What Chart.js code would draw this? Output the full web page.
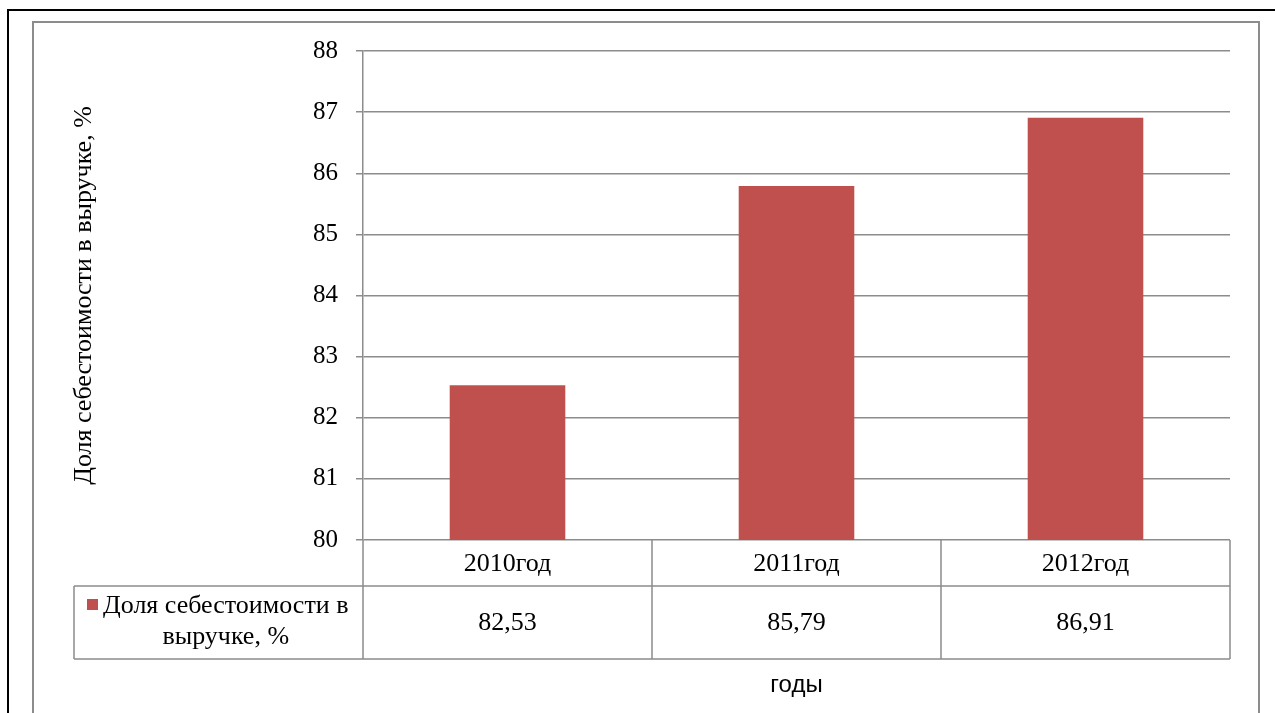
<!DOCTYPE html>
<html>
<head>
<meta charset="utf-8">
<script src="https://cdn.jsdelivr.net/npm/chart.js@4"></script>
<style>
  html, body { margin: 0; padding: 0; background: #fff; }
  #wrap { position: relative; width: 1275px; height: 713px; overflow: hidden; }
  #outer { position: absolute; left: 7px; top: 9px; width: 1300px; height: 800px;
           border-left: 2px solid #000; border-top: 2px solid #000; }
  #inner { position: absolute; left: 32px; top: 21px; width: 1224px; height: 800px;
           border: 2px solid #8c8c8c; }
  canvas { position: absolute; left: 0; top: 0; }
</style>
</head>
<body>
<div id="wrap">
  <div id="outer"></div>
  <div id="inner"></div>
  <canvas id="c" width="1275" height="713"></canvas>
</div>
<script>
// Доля себестоимости в выручке по годам
const categories = ['2010год', '2011год', '2012год'];
const values = [82.53, 85.79, 86.91];
const seriesName = 'Доля себестоимости в выручке, %';
const yTitle = 'Доля себестоимости в выручке, %';
const xTitle = 'годы';

const BAR = '#C0504D';
const LINE = '#8c8c8c';
const SERIF = '"Liberation Serif", "Times New Roman", serif';

const fmt = v => v.toFixed(2).replace('.', ',');

// data table under the plot, drawn from the x scale
const dataTable = {
  id: 'dataTable',
  afterDraw(chart) {
    const { ctx, chartArea: a, scales: { x } } = chart;
    const n = categories.length;
    const step = a.width / n;
    const r1 = a.bottom + 46, r2 = r1 + 73, legL = 74;
    ctx.save();
    ctx.strokeStyle = LINE; ctx.lineWidth = 1.5;
    ctx.beginPath();
    ctx.moveTo(legL, r1); ctx.lineTo(a.right, r1);
    ctx.moveTo(legL, r2); ctx.lineTo(a.right, r2);
    ctx.moveTo(legL, r1); ctx.lineTo(legL, r2);
    for (let i = 0; i <= n; i++) {
      const xx = a.left + i * step;
      ctx.moveTo(xx, a.bottom); ctx.lineTo(xx, r2);
    }
    ctx.stroke();

    ctx.fillStyle = '#000';
    ctx.textAlign = 'center'; ctx.textBaseline = 'middle';
    ctx.font = '26px ' + SERIF;
    categories.forEach((c, i) => {
      const cx = x.getPixelForValue(i);
      ctx.fillText(c, cx, (a.bottom + r1) / 2 + 1);
      ctx.fillText(fmt(values[i]), cx, (r1 + r2) / 2 + 1);
    });

    // legend key in the first column
    const l1 = 'Доля себестоимости в', l2 = 'выручке, %';
    const tx = 103, w1 = ctx.measureText(l1).width;
    ctx.fillStyle = BAR;
    ctx.fillRect(87, 599, 11, 11);
    ctx.fillStyle = '#000';
    ctx.textAlign = 'left';
    ctx.fillText(l1, tx, 606);
    ctx.textAlign = 'center';
    ctx.fillText(l2, tx + w1 / 2, 637);

    // x axis title
    ctx.font = '24px "Liberation Sans", Arial, sans-serif';
    ctx.fillText(xTitle, (a.left + a.right) / 2, 685);
    ctx.restore();
  }
};

new Chart(document.getElementById('c'), {
  type: 'bar',
  data: {
    labels: categories,
    datasets: [{
      label: seriesName, data: values, backgroundColor: BAR,
      borderWidth: 0, barPercentage: 0.4, categoryPercentage: 1,
    }]
  },
  options: {
    responsive: false, animation: false,
    layout: { padding: { left: 65, right: 45, top: 51, bottom: 173 } },
    plugins: { legend: { display: false }, tooltip: { enabled: false } },
    scales: {
      x: { display: false },
      y: {
        min: 80, max: 88,
        afterFit: s => { s.width = 363 - 65; },
        ticks: { stepSize: 1, padding: 18, color: '#000',
                 font: { family: SERIF, size: 25 } },
        grid: { color: LINE, lineWidth: 1.5, tickLength: 7 },
        border: { color: LINE, width: 1.5 },
        title: { display: true, text: yTitle, color: '#000',
                 font: { family: SERIF, size: 26 } },
      },
    },
  },
  plugins: [dataTable],
});
</script>
</body>
</html>
